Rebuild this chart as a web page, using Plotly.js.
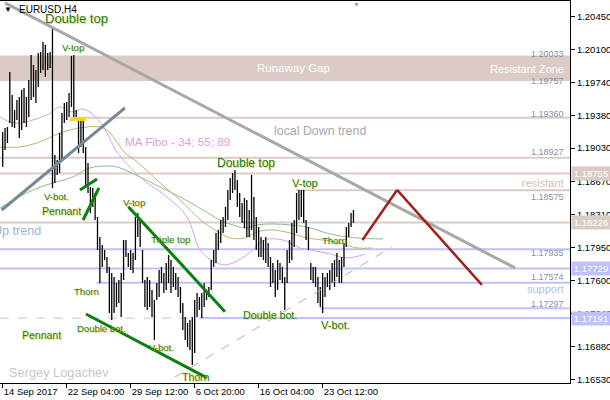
<!DOCTYPE html>
<html><head><meta charset="utf-8">
<script src="https://cdn.plot.ly/plotly-3.0.1.min.js"></script>
<style>html,body{margin:0;padding:0;background:#fff}#chart{width:610px;height:400px}</style>
</head><body><div id="chart"></div>
<script>
// ---- data ----
const dateLabels = ['14 Sep 2017','22 Sep 04:00','29 Sep 12:00','6 Oct 20:00','16 Oct 04:00','23 Oct 12:00'];
const dateTickBars = [0,27,54,81,108,135];
const priceTicks = [1.20450,1.20100,1.19740,1.19380,1.19030,1.18670,1.18310,1.17950,1.17600,1.17240,1.16880,1.16530];

const barHigh = [
1.19205,1.19249,1.19259,1.19854,1.19606,1.19443,1.19552,1.19584,1.19660,1.19681,
1.19584,1.19768,1.20038,1.19930,1.19876,1.20060,1.20071,1.20179,1.20147,1.20060,
1.20071,1.20330,1.18956,1.18902,1.19195,1.19411,1.19519,1.19530,1.19627,1.20028,
1.20038,1.19443,1.19368,1.19368,1.19335,1.19043,1.18870,1.18610,1.18599,1.18545,
1.18285,1.18069,1.17982,1.17929,1.17853,1.17745,1.17680,1.17637,1.17572,1.17604,
1.17680,1.18036,1.18036,1.17896,1.17929,1.17896,1.18285,1.18329,1.18253,1.17929,
1.17604,1.17637,1.17604,1.17496,1.17388,1.17572,1.17712,1.17745,1.17680,1.17788,
1.17875,1.17820,1.17745,1.17680,1.17637,1.17528,1.17355,1.17203,1.17139,1.17171,
1.17203,1.17388,1.17463,1.17420,1.17463,1.17572,1.17496,1.17528,1.17820,1.17929,
1.18112,1.18145,1.18253,1.18285,1.18394,1.18578,1.18708,1.18762,1.18794,1.18686,
1.18545,1.18437,1.18491,1.18470,1.18361,1.18740,1.18502,1.18285,1.18177,1.18069,
1.18036,1.18069,1.18004,1.17853,1.17788,1.17712,1.17820,1.17788,1.17745,1.17637,
1.17929,1.18036,1.18221,1.18253,1.18545,1.18578,1.18578,1.18578,1.18253,1.18177,
1.17788,1.17745,1.17745,1.17637,1.17528,1.17680,1.17637,1.17680,1.17712,1.17788,
1.17820,1.17896,1.17820,1.17853,1.18004,1.18177,1.18221,1.18329,1.18361];
const barLow = [
1.18827,1.19011,1.19086,1.19303,1.19259,1.19249,1.19335,1.19140,1.19227,1.19303,
1.19259,1.19368,1.19552,1.19584,1.19519,1.19692,1.19844,1.19876,1.19800,1.19876,
1.19898,1.18599,1.18654,1.18740,1.18762,1.18902,1.19303,1.19335,1.19368,1.19476,
1.19335,1.19335,1.18978,1.19043,1.18978,1.18610,1.18545,1.18329,1.18394,1.18253,
1.17929,1.17572,1.17745,1.17820,1.17680,1.17247,1.17171,1.17247,1.17312,1.17355,
1.17203,1.17604,1.17853,1.17745,1.17712,1.17680,1.17820,1.18069,1.17961,1.17572,
1.17312,1.17279,1.17312,1.17203,1.16955,1.17388,1.17420,1.17572,1.17463,1.17496,
1.17572,1.17463,1.17528,1.17496,1.17420,1.17247,1.17063,1.16955,1.16879,1.16847,
1.16684,1.16814,1.17203,1.17279,1.17193,1.17312,1.17388,1.17420,1.17496,1.17745,
1.17788,1.17929,1.18004,1.18112,1.18177,1.18253,1.18470,1.18545,1.18578,1.18394,
1.18285,1.18221,1.18166,1.18069,1.18069,1.18145,1.18036,1.17929,1.17853,1.17853,
1.17820,1.17788,1.17745,1.17528,1.17572,1.17420,1.17496,1.17604,1.17572,1.17279,
1.17572,1.17788,1.17820,1.17961,1.18112,1.18253,1.18285,1.18221,1.18036,1.17929,
1.17604,1.17572,1.17528,1.17355,1.17312,1.17247,1.17420,1.17528,1.17496,1.17572,
1.17528,1.17637,1.17572,1.17572,1.17745,1.17961,1.18069,1.18177,1.18221];

// moving averages (MA Fibo 34; 55; 89), sampled at bar positions
const ma34Bar = [-1.1,3.1,7.3,12.8,18.7,24.2,27.1,29.7,33.5,36.8,41.1,44.0,46.5,48.2,57.9,69.3,77.8,83.2,88.7,93.8,98.9,103.5,110.7,118.3,125.4,129.7,138.1,145.3,152.9];
const ma34Val = [1.19367,1.19313,1.19302,1.19335,1.19389,1.19475,1.19443,1.19421,1.19454,1.19421,1.19313,1.19194,1.19064,1.18989,1.18718,1.18502,1.18285,1.17929,1.17809,1.17766,1.17809,1.17885,1.18036,1.18036,1.17950,1.17929,1.17885,1.17842,1.17885];
const ma55Bar = [-1.1,7.3,15.7,24.2,32.6,41.1,45.3,51.6,55.8,66.4,74.8,84.5,91.7,95.9,102.2,107.3,114.1,121.2,128.4,135.1,142.3,149.5,155.8];
const ma55Val = [1.19043,1.19043,1.19097,1.19194,1.19248,1.19259,1.19194,1.18978,1.18902,1.18654,1.18470,1.18231,1.18112,1.18058,1.18058,1.18123,1.18145,1.18112,1.18058,1.18036,1.18004,1.17950,1.17950];
const ma89Bar = [-1.1,3.1,12.8,21.2,29.7,36.8,44.0,48.2,57.9,66.4,74.8,84.5,91.7,97.2,102.2,107.3,114.1,121.2,128.4,135.1,142.3,149.5,160.5];
const ma89Val = [1.18383,1.18448,1.18578,1.18654,1.18718,1.18816,1.18837,1.18827,1.18718,1.18610,1.18502,1.18361,1.18253,1.18199,1.18166,1.18199,1.18210,1.18199,1.18177,1.18123,1.18080,1.18058,1.18047];

// horizontal levels
const brownLevels = [1.19360,1.18927,1.18755,1.18575,1.18226];
const blueLevels  = [1.17935,1.17729,1.17574,1.17297,1.17191];
const zoneTop = 1.20033, zoneBottom = 1.19757;

// ---- build traces ----
const bx = [], by = [];
barHigh.forEach((h,i)=>{ bx.push(i,i,null); by.push(h,barLow[i],null); });

const traces = [
  {type:'scatter',mode:'lines',x:ma89Bar,y:ma89Val,line:{color:'#8fbc8f',width:1,shape:'spline'},hoverinfo:'skip'},
  {type:'scatter',mode:'lines',x:ma55Bar,y:ma55Val,line:{color:'#bdb76b',width:1,shape:'spline'},hoverinfo:'skip'},
  {type:'scatter',mode:'lines',x:ma34Bar,y:ma34Val,line:{color:'#dda0dd',width:1,shape:'spline'},hoverinfo:'skip'},
  {type:'scatter',mode:'lines',x:bx,y:by,line:{color:'#000',width:1.3},connectgaps:false,hoverinfo:'skip'}
];

const BROWN='#dccbc5', BLUE='#c0c0ff';
function hl(y,x0,color,dash,xEnd){
  const s={type:'line',layer:'below',y0:y,y1:y,yref:'y',line:{color:color,width:2,dash:dash||'solid'}};
  if(x0===null){s.xref='paper';s.x0=0;s.x1=1;}
  else {s.xref='x';s.x0=x0;s.x1=(xEnd===undefined?240:xEnd);}
  return s;
}
const shapes = [
  {type:'rect',xref:'paper',x0:0,x1:1,yref:'y',y0:zoneBottom,y1:zoneTop,fillcolor:BROWN,line:{width:0},layer:'below'},
  hl(brownLevels[0],35.2,BROWN),
  hl(brownLevels[1],null,BROWN),
  hl(brownLevels[2],null,BROWN),
  hl(brownLevels[3],123.8,BROWN),
  hl(brownLevels[4],null,BROWN),
  hl(blueLevels[0],null,BLUE),
  hl(blueLevels[1],null,BLUE),
  hl(blueLevels[2],39.6,BLUE),
  hl(blueLevels[3],133.9,BLUE),
  hl(blueLevels[4],83.3,BLUE),
  {type:'line',layer:'below',xref:'x',yref:'y',x0:-1.2,x1:83.3,y0:blueLevels[4],y1:blueLevels[4],line:{color:BLUE,width:1,dash:'dash'}},
  // yellow marker
  {type:'rect',xref:'x',yref:'y',x0:28.4,x1:35.2,y0:1.19324,y1:1.19367,fillcolor:'#ffd21a',line:{width:0}},
  // local down trend
  {type:'line',xref:'x',yref:'y',x0:0.97,y0:1.20601,x1:216.2,y1:1.17734,line:{color:'#a8a8a8',width:3}},
  // up trend
  {type:'line',xref:'x',yref:'y',x0:-0.42,y0:1.18361,x1:51.6,y1:1.19465,line:{color:'#778899',width:3}},
  // dashed support trend
  {type:'line',xref:'x',yref:'y',x0:72.7,y0:1.16554,x1:164.3,y1:1.17961,line:{color:'#b0b0b0',width:1,dash:'dash'}},
  // green pattern lines
  {type:'line',xref:'x',yref:'y',x0:32.6,y0:1.18578,x1:39.8,y1:1.18697,line:{color:'#0b800b',width:3}},
  {type:'line',xref:'x',yref:'y',x0:33.9,y0:1.18253,x1:40.6,y1:1.18599,line:{color:'#0b800b',width:3}},
  {type:'line',xref:'x',yref:'y',x0:53.0,y0:1.18397,x1:93.8,y1:1.17261,line:{color:'#0b800b',width:3}},
  {type:'line',xref:'x',yref:'y',x0:35.1,y0:1.17236,x1:86.2,y1:1.16544,line:{color:'#0b800b',width:3}},
  // forecast (red)
  {type:'line',xref:'x',yref:'y',x0:151.8,y0:1.18037,x1:166.4,y1:1.18578,line:{color:'#a3201f',width:2.5}},
  {type:'line',xref:'x',yref:'y',x0:166.4,y0:1.18578,x1:202.2,y1:1.17550,line:{color:'#a3201f',width:2.5}}
];

const F='Liberation Sans, Arial, sans-serif';
const GREEN='#1a7f1a', SHADOW='1px 1px 0px rgba(225,190,0,0.6)';
function g(text,x,y,size){return {text,x,y,xref:'x',yref:'y',showarrow:false,xanchor:'center',yanchor:'middle',font:{family:F,size:size,color:GREEN,shadow:SHADOW}};}
function t(text,x,y,size,color,xa){return {text,x,y,xref:'x',yref:'y',showarrow:false,xanchor:xa||'center',yanchor:'middle',font:{family:F,size:size,color:color}};}
function rt(text,y,size,color){return {text,x:0.993,y,xref:'paper',yref:'y',showarrow:false,xanchor:'right',yanchor:'middle',font:{family:F,size:size,color:color}};}
function box(text,y,bg){return {text,x:1,y,xref:'paper',yref:'y',xshift:1,showarrow:false,xanchor:'left',yanchor:'middle',bgcolor:bg,borderpad:1,width:36,align:'center',font:{family:F,size:9.5,color:'#fff'}};}
const PRICE='#8590ad';

const annotations = [
  {text:'▼',x:8/570,y:(383-9)/382,xref:'paper',yref:'paper',showarrow:false,xanchor:'center',yanchor:'middle',font:{family:F,size:8,color:'#000'}},
  {text:'EURUSD,H4',x:17/570,y:(383-9)/382,xref:'paper',yref:'paper',showarrow:false,xanchor:'left',yanchor:'middle',font:{family:F,size:10,color:'#000'}},
  {text:'▼',x:357/570,y:(383-4)/382,xref:'paper',yref:'paper',showarrow:false,xanchor:'center',yanchor:'middle',font:{family:F,size:7,color:'#a0a0a0'}},
  {text:'Sergey Logachev',x:7/570,y:(383-372)/382,xref:'paper',yref:'paper',showarrow:false,xanchor:'left',yanchor:'middle',font:{family:F,size:12.8,color:'#c8c8c8'}},
  g('Double top',31.3,1.20428,13),
  g('V-top',29.5,1.20114,9.5),
  t('Runaway Gap',122.7,1.19897,11.5,'#ffffff'),
  rt('Resistant Zone',1.19886,11,'#ffffff'),
  rt('1.20033',1.20049,9,PRICE),
  rt('1.19757',1.19757,9,PRICE),
  rt('1.19360',1.19400,9,PRICE),
  rt('1.18927',1.18989,9,PRICE),
  rt('resistant',1.18653,11,'#d6beb6'),
  rt('1.18575',1.18502,9,PRICE),
  rt('1.17935',1.17896,9,PRICE),
  rt('1.17574',1.17636,9,PRICE),
  rt('support',1.17506,11,'#b8b8f2'),
  rt('1.17297',1.17344,9,PRICE),
  t('MA Fibo - 34; 55; 89',50.8,1.19097,11.7,'#dda0dd','left'),
  t('local Down trend',113.6,1.19216,12.4,'#a8a8a8','left'),
  g('Double top',102.7,1.18870,12),
  g('V-top',127.5,1.18653,11),
  g('V-bot.',22.5,1.18502,9.5),
  g('Pennant',24.6,1.18350,10.5),
  t('Up trend',17.0,1.18134,12.6,'#9fb3d6','right'),
  g('V-top',55.2,1.18437,9.5),
  g('Triple top',70.6,1.18047,9.5),
  g('Thorn',35.4,1.17474,9.5),
  g('Pennant',16.2,1.17009,10.5),
  g('Double bot.',41.7,1.17074,9.5),
  g('V-bot.',67.2,1.16868,9.5),
  Object.assign(g('Thorn',74.9,1.16554,10.5),{xanchor:'left'}),
  g('Double bot.',112.8,1.17225,10.6),
  g('V-bot.',140.6,1.17117,11),
  g('Thorn',140.2,1.18026,9.5),
  box('1.18755',1.18755,BROWN),
  box('1.18226',1.18226,BROWN),
  box('1.17729',1.17729,BLUE),
  box('1.17191',1.17191,BLUE)
];

const layout = {
  width:610,height:400,
  margin:{l:0,r:40,t:1,b:17,pad:0},
  paper_bgcolor:'#fff',plot_bgcolor:'#fff',
  showlegend:false,
  font:{family:F,size:9.5,color:'#000'},
  xaxis:{range:[-1.139,239.37],tickmode:'array',tickvals:dateTickBars,ticktext:dateLabels,
    ticks:'outside',ticklen:4,tickcolor:'#000',ticklabelposition:'outside right',tickangle:0,
    automargin:false,
    showline:true,mirror:true,linecolor:'#000',linewidth:1,showgrid:false,zeroline:false,
    tickfont:{family:F,size:9.5,color:'#000'}},
  yaxis:{range:[1.16489,1.20622],side:'right',tickmode:'array',tickvals:priceTicks,
    ticktext:priceTicks.map(v=>v.toFixed(5)),ticks:'outside',ticklen:4,tickcolor:'#000',
    automargin:false,
    showline:true,mirror:true,linecolor:'#000',linewidth:1,showgrid:false,zeroline:false,
    tickfont:{family:F,size:9.5,color:'#000'}},
  shapes:shapes,annotations:annotations
};
Plotly.newPlot('chart',traces,layout,{staticPlot:true,displayModeBar:false});
</script></body></html>
